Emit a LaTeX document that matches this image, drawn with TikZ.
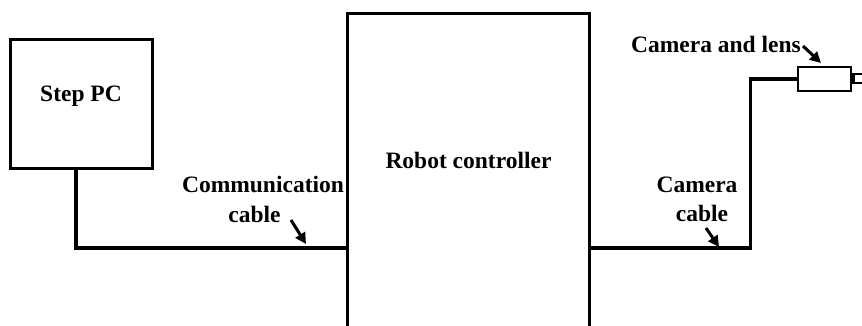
\documentclass[tikz,border=0pt]{standalone}
\usepackage{fontspec}
\setmainfont{Liberation Serif}
\usetikzlibrary{arrows.meta}
\begin{document}
\begin{tikzpicture}[x=1pt,y=-1pt,
  box/.style={draw, line width=3pt, inner sep=0pt},
  cable/.style={line width=3.2pt},
  lbl/.style={font=\fontsize{23.5}{25}\selectfont\bfseries, inner sep=0pt, anchor=base},
  pointer/.style={line width=3pt, -{Triangle[length=11pt,width=11pt]}}]
\useasboundingbox (0,0) rectangle (862,325);
\clip (0,0) rectangle (862,325);

% main units
\node[box, minimum width=142pt, minimum height=129pt] (pc) at (81,103.5) {};
\node[box, minimum width=242pt, minimum height=340pt] (rc) at (468,183) {};

% camera body and lens
\node[box, line width=2.4pt, minimum width=53pt, minimum height=24pt] (cam) at (824.5,79) {};
\node[box, line width=2.4pt, minimum width=22pt, minimum height=9pt, anchor=west] (lens) at ([yshift=0.5pt]cam.east) {};

% unit names
\node[lbl] (pct) at (81,101) {Step PC};
\node[lbl] (rct) at (468.5,168) {Robot controller};

% cables
\draw[cable] ([xshift=-5pt]pc.south) |- (rc.west |- 0,248);
\draw[cable] (rc.east |- 0,248) -| ([xshift=-46pt]cam.west) -- (cam.west);

% cable labels
\node[lbl] (cc1) at (263,192) {Communication};
\node[lbl] (cc2) at (254.5,222) {cable};
\node[lbl] (kc1) at (697,192) {Camera};
\node[lbl] (kc2) at (702,221) {cable};
\node[lbl] (cl) at (716,52) {Camera and lens};

% pointer arrows
\coordinate (p1s) at (291,220);
\coordinate (p1e) at (306,244);
\coordinate (p2s) at (706,228);
\coordinate (p2e) at (719,247);
\coordinate (p3s) at (803,46);
\coordinate (p3e) at (821,63);
\draw[pointer] (p1s) -- (p1e);
\draw[pointer] (p2s) -- (p2e);
\draw[pointer] (p3s) -- (p3e);
\end{tikzpicture}
\end{document}
